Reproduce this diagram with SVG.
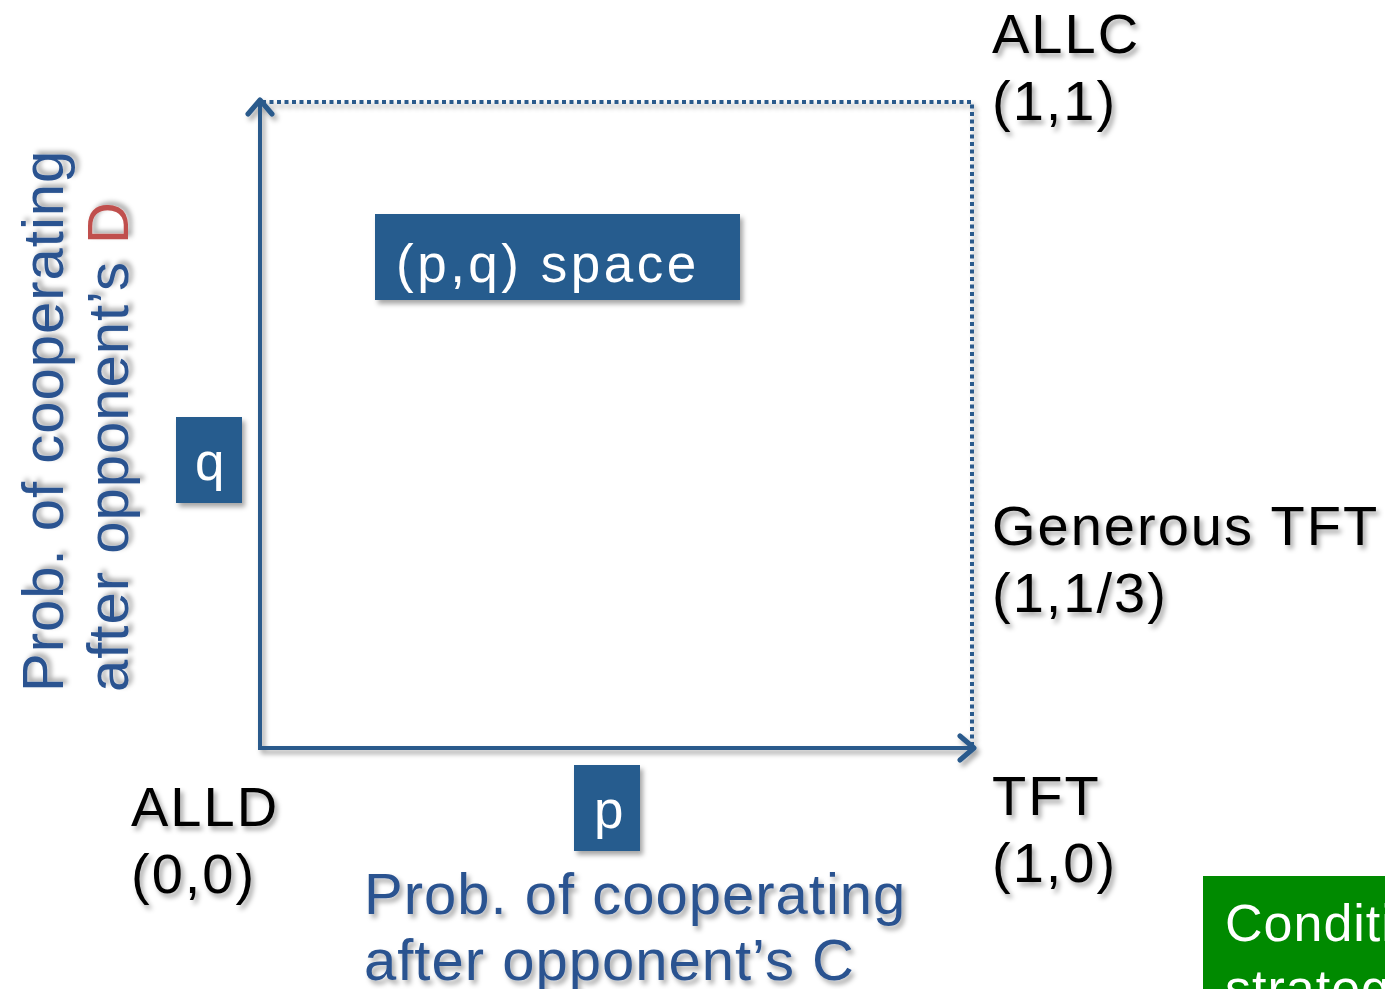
<svg xmlns="http://www.w3.org/2000/svg" width="1385" height="989" viewBox="0 0 1385 989">
<defs>
<filter id="sh" x="-20%" y="-20%" width="140%" height="140%">
<feDropShadow dx="3" dy="4" stdDeviation="2.5" flood-color="#000" flood-opacity="0.35"/>
</filter>
<marker id="arr" markerWidth="22" markerHeight="30" refX="17" refY="15" orient="auto" markerUnits="userSpaceOnUse" viewBox="0 0 22 30">
<path d="M3,3 L17,15 L3,27" fill="none" stroke="#2a5a8c" stroke-width="5" stroke-linecap="round" stroke-linejoin="round"/>
</marker>
</defs>
<style>
text{font-family:"Liberation Sans",Arial,sans-serif;}
.lbl{font-size:56px;fill:#000;letter-spacing:2px;filter:url(#sh);}
.ax{font-size:58px;fill:#2b5390;letter-spacing:1px;filter:url(#sh);}
.box{fill:#285b8e;filter:url(#sh);}
.bt{fill:#fff;font-size:53px;letter-spacing:3.5px;}
</style>
<rect width="1385" height="989" fill="#fff"/>
<g id="connectors" filter="url(#sh)">
<path d="M262,102 H972 V746" fill="none" stroke="#2a5a8c" stroke-width="4" stroke-dasharray="4,3.5"/>
<line x1="260" y1="748" x2="260" y2="100" stroke="#2a5a8c" stroke-width="4" marker-end="url(#arr)"/>
<line x1="258" y1="748" x2="974" y2="748" stroke="#2a5a8c" stroke-width="4" marker-end="url(#arr)"/>
</g>
<g id="allc"><text class="lbl" x="992" y="53">ALLC</text><text class="lbl" x="992" y="120">(1,1)</text></g>
<g id="gtft"><text class="lbl" x="992" y="545">Generous TFT</text><text class="lbl" x="992" y="612">(1,1/3)</text></g>
<g id="tft"><text class="lbl" x="992" y="815">TFT</text><text class="lbl" x="992" y="882">(1,0)</text></g>
<g id="alld"><text class="lbl" x="131" y="826">ALLD</text><text class="lbl" x="131" y="893">(0,0)</text></g>
<g id="pqspace"><rect class="box" x="375" y="214" width="365" height="86"/><text class="bt" x="396" y="282">(p,q) space</text></g>
<g id="qbox"><rect class="box" x="176" y="417" width="66" height="86"/><text class="bt" x="195" y="480">q</text></g>
<g id="pbox"><rect class="box" x="574" y="765" width="66" height="86"/><text class="bt" x="594" y="828">p</text></g>
<g id="xlabel"><text class="ax" x="364" y="914">Prob. of cooperating</text><text class="ax" x="364" y="980">after opponent’s C</text></g>
<g id="ylabel" transform="translate(63,692) rotate(-90)"><text class="ax" x="0" y="0">Prob. of cooperating</text><text class="ax" x="0" y="65">after opponent’s <tspan fill="#c0504d">D</tspan></text></g>
<g id="conditional"><rect x="1203" y="876" width="200" height="130" fill="#008a00"/><text x="1225" y="941" fill="#fff" font-size="52" letter-spacing="1">Conditional</text><text x="1225" y="1006" fill="#fff" font-size="52" letter-spacing="1">strategies</text></g>
</svg>
